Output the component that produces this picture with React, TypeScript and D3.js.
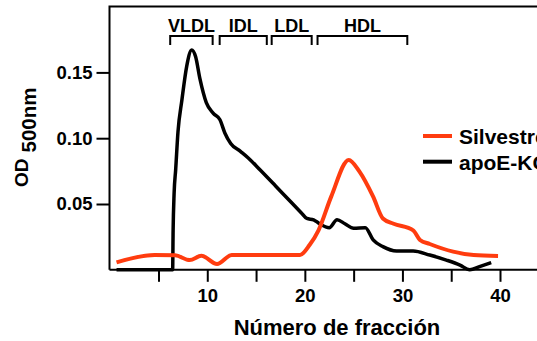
import { useRef, useEffect } from 'react';
import * as d3 from 'd3';

// fraction number / OD values
const koFractions = [0.7, 6.45, 6.5, 6.6, 6.76, 7.0, 7.4, 7.9, 8.4, 8.8, 9.25, 9.9, 10.6, 11.3, 11.8, 12.4, 13.4, 14.2, 15.4, 17.0, 18.6, 19.6, 20.2, 20.9, 21.5, 22.5, 23.3, 24.1, 25.0, 26.2, 27.0, 28.0, 29.4, 31.1, 32.8, 34.5, 35.9, 36.9, 37.9, 39.1];
const koValues = [0, 0, 0.03, 0.058, 0.076, 0.105, 0.129, 0.155, 0.167, 0.162, 0.145, 0.127, 0.119, 0.114, 0.104, 0.096, 0.09, 0.085, 0.076, 0.0637, 0.0513, 0.0436, 0.039, 0.038, 0.035, 0.032, 0.038, 0.035, 0.0315, 0.032, 0.0227, 0.0176, 0.0143, 0.0143, 0.0112, 0.0074, 0.0036, 0, 0.0024, 0.0054];

const wtFractions = [0.7, 4.6, 6.7, 8.2, 9.4, 11.0, 12.5, 19.5, 20.5, 21.4, 22.7, 24.5, 25.6, 27.0, 28.0, 29.1, 31.1, 31.8, 32.8, 35.2, 37.3, 39.8];
const wtValues = [0.0057, 0.0112, 0.011, 0.0074, 0.0107, 0.0044, 0.0112, 0.0112, 0.019, 0.03, 0.0556, 0.0835, 0.0746, 0.0556, 0.039, 0.035, 0.03, 0.0227, 0.0196, 0.0138, 0.0112, 0.0105];

const seriesNames = ['Silvestre', 'apoE-KO'];
const seriesColors = ['#ff3c0f', '#000000'];

const lipoNames = ['VLDL', 'IDL', 'LDL', 'HDL'];
const lipoStart = [6.2, 11.27, 16.6, 21.3];
const lipoEnd = [10.55, 16.1, 20.7, 30.5];

const xTicks = [5, 10, 15, 20, 25, 30, 35, 40];
const yTicks = [0.05, 0.1, 0.15];

const FONT = '"Liberation Sans", Arial, Helvetica, sans-serif';

export default function App() {
  const svgRef = useRef<SVGSVGElement>(null);

  useEffect(() => {
    if (!svgRef.current) return;
    const svg = d3.select(svgRef.current);
    svg.selectAll('*').remove();

    const width = 537;
    const height = 341;
    svg.attr('width', width).attr('height', height);

    const x = d3.scaleLinear().domain([0, 40]).range([109.7, 500]);
    const y = d3.scaleLinear().domain([0, 0.2]).range([269.8, 6.6]);
    const x0 = 109.5;

    const root = svg.append('g').attr('font-family', FONT).attr('font-weight', 'bold');

    // frame (top + left), right side runs off the picture
    root.append('path')
      .attr('d', `M${x0},${y(0)}V${y(0.2)}H${width + 10}`)
      .attr('fill', 'none')
      .attr('stroke', '#000')
      .attr('stroke-width', 2);

    // X axis
    const xAxis = root.append('g')
      .attr('transform', `translate(0,${y(0)})`)
      .call(
        d3.axisBottom(x)
          .tickValues(xTicks)
          .tickSize(12)
          .tickPadding(7)
          .tickFormat((d) => ((d as number) % 10 === 0 ? String(d) : ''))
      );
    xAxis.select('.domain').remove();
    xAxis.selectAll('line').attr('stroke-width', 2);
    xAxis.selectAll('text').attr('font-size', '18.5px').attr('fill', '#000');
    root.append('line')
      .attr('x1', x0).attr('x2', width + 10)
      .attr('y1', y(0)).attr('y2', y(0))
      .attr('stroke', '#000').attr('stroke-width', 2);

    // Y axis
    const yAxis = root.append('g')
      .attr('transform', `translate(${x0},0)`)
      .call(d3.axisLeft(y).tickValues(yTicks).tickSize(13).tickPadding(4).tickFormat(d3.format('.2f')));
    yAxis.select('.domain').remove();
    yAxis.selectAll('line').attr('stroke-width', 2);
    yAxis.selectAll('text').attr('font-size', '18.5px').attr('fill', '#000');

    // Axis titles
    root.append('text')
      .attr('x', 337)
      .attr('y', 335)
      .attr('text-anchor', 'middle')
      .attr('font-size', '22px')
      .text('Número de fracción');

    const yTitle = root.append('text')
      .attr('transform', `translate(28,187) rotate(-90)`)
      .attr('font-size', '19px');
    yTitle.append('tspan').text('OD');
    yTitle.append('tspan').attr('dx', 6).attr('dy', 8).attr('font-size', '20.5px').text('500nm');

    // Lipoprotein brackets
    const bracketTop = 36;
    const bracketBottom = 45;
    lipoNames.forEach((name, i) => {
      const a = x(lipoStart[i]);
      const b = x(lipoEnd[i]);
      root.append('path')
        .attr('d', `M${a},${bracketBottom}V${bracketTop}H${b}V${bracketBottom}`)
        .attr('fill', 'none')
        .attr('stroke', '#000')
        .attr('stroke-width', 2);
      root.append('text')
        .attr('x', (a + b) / 2)
        .attr('y', 31.5)
        .attr('text-anchor', 'middle')
        .attr('font-size', '18px')
        .text(name);
    });

    // Curves
    const line = d3.line<[number, number]>()
      .x((d) => x(d[0]))
      .y((d) => y(d[1]))
      .curve(d3.curveMonotoneX);

    const wt: [number, number][] = wtFractions.map((f, i) => [f, wtValues[i]]);
    const ko: [number, number][] = koFractions.map((f, i) => [f, koValues[i]]);

    root.append('path')
      .attr('d', line(ko))
      .attr('fill', 'none')
      .attr('stroke', seriesColors[1])
      .attr('stroke-width', 3.5)
      .attr('stroke-linejoin', 'round');

    root.append('path')
      .attr('d', line(wt))
      .attr('fill', 'none')
      .attr('stroke', seriesColors[0])
      .attr('stroke-width', 4)
      .attr('stroke-linejoin', 'round');

    // Legend
    const legendY = [136, 161.7];
    seriesNames.forEach((name, i) => {
      root.append('line')
        .attr('x1', 423).attr('x2', 452)
        .attr('y1', legendY[i]).attr('y2', legendY[i])
        .attr('stroke', seriesColors[i])
        .attr('stroke-width', 4);
      root.append('text')
        .attr('x', 459)
        .attr('y', legendY[i] + 8)
        .attr('font-size', '21px')
        .text(name);
    });
  }, []);

  return <svg ref={svgRef} style={{ position: 'absolute', left: 0, top: 0 }} />;
}
